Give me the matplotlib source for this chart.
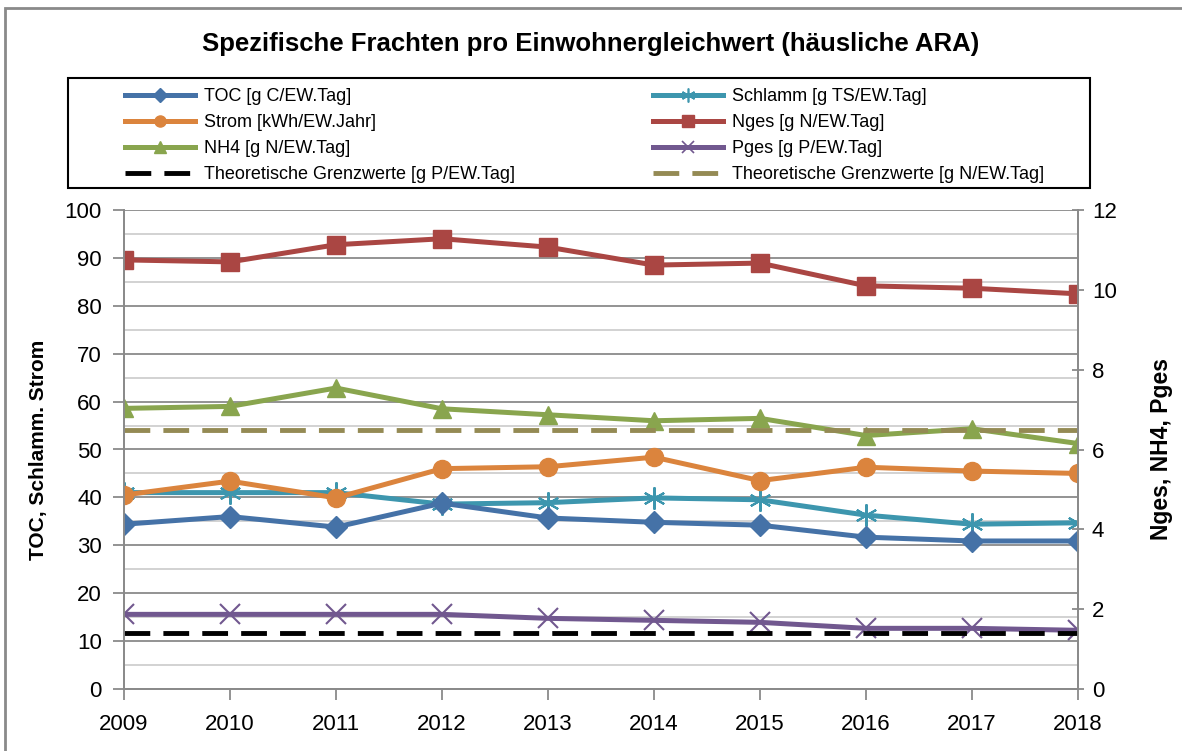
import matplotlib.pyplot as plt
from matplotlib.patches import Rectangle
from matplotlib.lines import Line2D
from matplotlib.ticker import MultipleLocator

plt.rcParams['font.family'] = ['Liberation Sans', 'DejaVu Sans']

years = [2009, 2010, 2011, 2012, 2013, 2014, 2015, 2016, 2017, 2018]

# left axis
toc = [34.4, 36.0, 33.8, 38.8, 35.7, 34.8, 34.2, 31.7, 30.9, 30.9]
schlamm = [41.0, 41.0, 41.0, 38.6, 38.9, 39.9, 39.5, 36.3, 34.4, 34.7]
strom = [40.5, 43.4, 39.9, 46.0, 46.4, 48.4, 43.5, 46.3, 45.5, 45.0]

# right axis
nges = [10.75, 10.70, 11.13, 11.28, 11.07, 10.62, 10.67, 10.10, 10.04, 9.90]
nh4 = [7.03, 7.08, 7.54, 7.02, 6.87, 6.72, 6.78, 6.35, 6.52, 6.15]
pges = [1.87, 1.87, 1.87, 1.87, 1.77, 1.72, 1.67, 1.52, 1.52, 1.47]
limit_p = 1.4
limit_n = 6.5

W, H = 1182, 751
fig = plt.figure(figsize=(W/100, H/100), dpi=100)
ax = fig.add_axes([124/W, 1-689/H, (1078-124)/W, (689-210)/H])
ax2 = ax.twinx()

lw = 3.6
dash = (0, (5.3, 2.7))
ax.plot(years, toc, color='#4572A7', lw=lw, marker='D', ms=11, zorder=5)
ax.plot(years, schlamm, color='#3D96AE', lw=lw, marker=(6, 2, 0), ms=16, mew=1.5, zorder=4)
ax.plot(years, strom, color='#DB843D', lw=lw, marker='o', ms=13, zorder=4)

ax2.plot(years, nges, color='#AA4643', lw=lw, marker='s', ms=13)
ax2.plot(years, nh4, color='#89A54E', lw=lw, marker='^', ms=13)
ax2.plot(years, pges, color='#71588F', lw=lw, marker='x', ms=14, mew=1.5)
ax2.plot([years[0], years[-1]], [limit_p, limit_p], color='black', lw=3.5, ls=dash)
ax2.plot([years[0], years[-1]], [limit_n, limit_n], color='#948A54', lw=3.5, ls=dash)

ax.set_xlim(2009, 2018)
ax.set_ylim(0, 100)
ax2.set_ylim(0, 12)
ax.set_xticks(years)
ax.yaxis.set_major_locator(MultipleLocator(10))
ax.yaxis.set_minor_locator(MultipleLocator(5))
ax2.yaxis.set_major_locator(MultipleLocator(2))
ax.grid(axis='y', which='major', color='#8a8a8a', lw=1.3)
ax.grid(axis='y', which='minor', color='#cfcfcf', lw=1.3)
ax.set_axisbelow(True)

for a in (ax, ax2):
    a.spines['top'].set_visible(False)
    for s in ('left', 'right', 'bottom'):
        a.spines[s].set_color('#8a8a8a')
        a.spines[s].set_linewidth(1.3)
ax.tick_params(axis='y', which='minor', length=0)
ax.tick_params(axis='both', which='major', length=8, width=1.3, color='#8a8a8a', labelsize=16)
ax2.tick_params(axis='y', length=8, width=1.3, color='#8a8a8a', labelsize=16, direction='inout', pad=6)
ax.tick_params(axis='x', pad=10)
ax.tick_params(axis='y', pad=8)

ax.set_ylabel('TOC, Schlamm. Strom', fontsize=15, fontweight='bold', labelpad=12)
ax2.set_ylabel('Nges, NH4, Pges', fontsize=16.5, fontweight='bold', labelpad=24)

fig.suptitle('Spezifische Frachten pro Einwohnergleichwert (häusliche ARA)',
             x=0.5, y=1-32/H, fontsize=18.5, fontweight='bold')

handles1 = [
    Line2D([], [], color='#4572A7', lw=lw, marker='D', ms=7),
    Line2D([], [], color='#DB843D', lw=lw, marker='o', ms=8),
    Line2D([], [], color='#89A54E', lw=lw, marker='^', ms=8),
    Line2D([], [], color='black', lw=3.5, ls=dash),
]
labels1 = ['TOC [g C/EW.Tag]', 'Strom [kWh/EW.Jahr]', 'NH4 [g N/EW.Tag]',
           'Theoretische Grenzwerte [g P/EW.Tag]']
handles2 = [
    Line2D([], [], color='#3D96AE', lw=lw, marker=(6, 2, 0), ms=10, mew=1.2),
    Line2D([], [], color='#AA4643', lw=lw, marker='s', ms=8),
    Line2D([], [], color='#71588F', lw=lw, marker='x', ms=8, mew=1.2),
    Line2D([], [], color='#948A54', lw=3.5, ls=dash),
]
labels2 = ['Schlamm [g TS/EW.Tag]', 'Nges [g N/EW.Tag]', 'Pges [g P/EW.Tag]',
           'Theoretische Grenzwerte [g N/EW.Tag]']

leg_kw = dict(loc='upper left', fontsize=13, handlelength=3.9, handletextpad=0.45,
              labelspacing=0.5, borderpad=0, borderaxespad=0, frameon=False)
leg1 = fig.legend(handles1, labels1, bbox_to_anchor=(125/W, 1-88/H), **leg_kw)
leg2 = fig.legend(handles2, labels2, bbox_to_anchor=(653/W, 1-88/H), **leg_kw)

# legend frame
fig.patches.append(Rectangle((68/W, 1-188/H), (1090-68)/W, 110/H,
                             transform=fig.transFigure, fill=False,
                             edgecolor='black', lw=1.5))
# chart area border
fig.patches.append(Rectangle((5/W, -0.02), 1.02, 1 - 8/H + 0.02,
                             transform=fig.transFigure, fill=False,
                             edgecolor='#8a8a8a', lw=2))

fig.savefig('out.png', dpi=100)
